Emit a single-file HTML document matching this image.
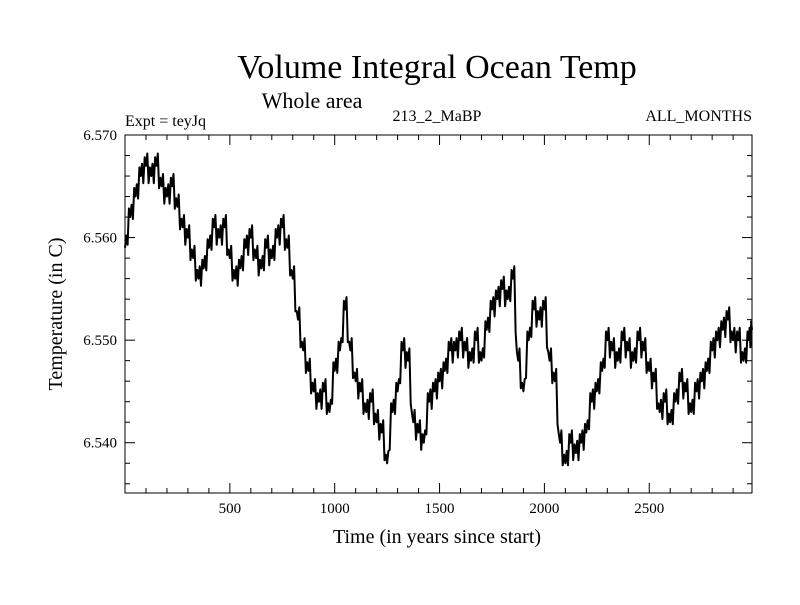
<!DOCTYPE html>
<html><head><meta charset="utf-8"><style>
body{margin:0;background:#fff}
svg text{font-family:"Liberation Serif",serif;fill:#000}
</style></head><body>
<svg width="800" height="600" viewBox="0 0 800 600">
<text x="437" y="78" font-size="34" text-anchor="middle">Volume Integral Ocean Temp</text>
<text x="312" y="108" font-size="22" text-anchor="middle">Whole area</text>
<text x="125" y="126" font-size="16">Expt = teyJq</text>
<text x="437" y="121" font-size="16" text-anchor="middle">213_2_MaBP</text>
<text x="752" y="121" font-size="16" text-anchor="end">ALL_MONTHS</text>
<text transform="translate(62,314) rotate(-90)" font-size="20" text-anchor="middle">Temperature (in C)</text>
<text x="437" y="543" font-size="20" text-anchor="middle">Time (in years since start)</text>
<g id="axes"></g>
<g id="series"></g>
<rect x="125" y="135" width="627" height="358" fill="none" stroke="#000" stroke-width="1"/>
</svg>
<script>
const years=[0,25,50,75,100,125,150,175,200,225,250,275,300,325,350,375,400,425,450,475,500,525,550,575,600,625,650,675,700,725,750,775,800,825,850,875,900,925,950,975,1000,1025,1050,1075,1100,1125,1150,1175,1200,1225,1250,1275,1300,1325,1350,1375,1400,1425,1450,1475,1500,1525,1550,1575,1600,1625,1650,1675,1700,1725,1750,1775,1800,1825,1850,1875,1900,1925,1950,1975,2000,2025,2050,2075,2100,2125,2150,2175,2200,2225,2250,2275,2300,2325,2350,2375,2400,2425,2450,2475,2500,2525,2550,2575,2600,2625,2650,2675,2700,2725,2750,2775,2800,2825,2850,2875,2900,2925,2950,2975,2990];
const temps=[6.559,6.562,6.564,6.566,6.567,6.566,6.567,6.565,6.564,6.565,6.563,6.561,6.560,6.558,6.556,6.557,6.559,6.561,6.560,6.561,6.558,6.556,6.557,6.559,6.560,6.558,6.557,6.559,6.558,6.560,6.561,6.559,6.556,6.552,6.549,6.547,6.545,6.544,6.545,6.543,6.547,6.549,6.553,6.549,6.546,6.545,6.543,6.544,6.542,6.541,6.538,6.543,6.545,6.549,6.548,6.542,6.541,6.540,6.544,6.545,6.546,6.547,6.549,6.549,6.550,6.549,6.548,6.550,6.548,6.551,6.553,6.554,6.555,6.554,6.556,6.548,6.545,6.550,6.553,6.552,6.553,6.548,6.546,6.540,6.538,6.540,6.539,6.540,6.541,6.544,6.545,6.547,6.550,6.549,6.548,6.550,6.549,6.548,6.550,6.549,6.547,6.546,6.543,6.544,6.542,6.544,6.546,6.545,6.543,6.545,6.546,6.547,6.549,6.550,6.551,6.552,6.550,6.550,6.548,6.550,6.551];
const spread=0.0012;
const xTicks=[500,1000,1500,2000,2500];
const yTicks=[6.540,6.550,6.560,6.570];
const yTickLabels=["6.540","6.550","6.560","6.570"];
const X0=125,X1=752,Y0=493,Y1=135,XMIN=0,XMAX=2990,YMIN=6.5351,YMAX=6.570;
function sx(v){return X0+(v-XMIN)/(XMAX-XMIN)*(X1-X0);}
function sy(v){return Y0-(v-YMIN)/(YMAX-YMIN)*(Y0-Y1);}
const NS="http://www.w3.org/2000/svg";
const axes=document.getElementById('axes');
function line(x1,y1,x2,y2){const l=document.createElementNS(NS,'line');l.setAttribute('x1',x1);l.setAttribute('y1',y1);l.setAttribute('x2',x2);l.setAttribute('y2',y2);l.setAttribute('stroke','#000');l.setAttribute('stroke-width','1');


axes.appendChild(l);}
for(let t=100;t<XMAX;t+=100){const x=sx(t),L=(t%500===0)?10:5;line(x,Y0,x,Y0-L);line(x,Y1,x,Y1+L);}
for(let k=0;k<=17;k++){const v=6.536+k*0.002;if(v>YMAX+1e-9)break;const y=sy(v),L=(Math.round(v*1000)%10===0)?10:5;line(X0,y,X0+L,y);line(X1,y,X1-L,y);}
xTicks.forEach(t=>{const tx=document.createElementNS(NS,'text');tx.setAttribute('x',sx(t));tx.setAttribute('y',Y0+20);tx.setAttribute('font-size','15');tx.setAttribute('text-anchor','middle');tx.textContent=t;


axes.appendChild(tx);});
yTicks.forEach((v,i)=>{const tx=document.createElementNS(NS,'text');tx.setAttribute('x',X0-8);tx.setAttribute('y',sy(v)+5);tx.setAttribute('font-size','15');tx.setAttribute('text-anchor','end');tx.textContent=yTickLabels[i];


axes.appendChild(tx);});
let pts=[];
for(let i=0;i<years.length;i++){
  const x=sx(years[i]);
  pts.push(x.toFixed(1)+','+sy(temps[i]).toFixed(1));
  if(i<years.length-1){
    const dx=(sx(years[i+1])-x)/4;
    const nxt=temps[i+1];
    pts.push((x+dx).toFixed(1)+','+sy(temps[i]+spread).toFixed(1));
    pts.push((x+2*dx).toFixed(1)+','+sy((temps[i]+nxt)/2-spread).toFixed(1));
    pts.push((x+3*dx).toFixed(1)+','+sy(nxt+spread*0.7).toFixed(1));
  }
}
const pl=document.createElementNS(NS,'polyline');
pl.setAttribute('points',pts.join(' '));pl.setAttribute('fill','none');pl.setAttribute('stroke','#000');pl.setAttribute('stroke-width','2');pl.setAttribute('stroke-linejoin','round');


document.getElementById('series').appendChild(pl);
</script>
</body></html>
